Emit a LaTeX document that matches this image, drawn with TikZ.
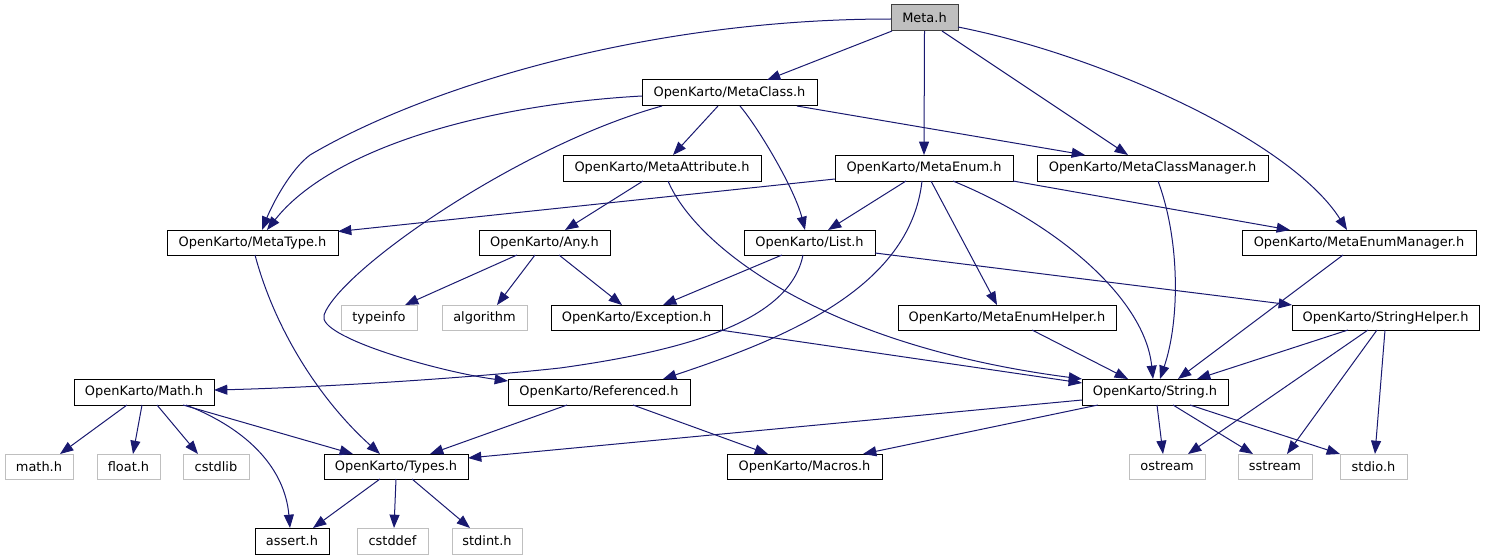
\documentclass[tikz,border=0pt]{standalone}
\usepackage{fontspec}
\setmainfont{DejaVu Sans}
\usetikzlibrary{arrows.meta,calc}
\definecolor{edgec}{HTML}{191970}
\definecolor{grayb}{HTML}{BFBFBF}
\definecolor{darkb}{HTML}{404040}
\newcommand{\nd}[7]{\node[#1, minimum width={(#5-#3)*0.75pt}, minimum height={(#6-#4)*0.75pt}] (#2) at ({(#3+#5)/2},{(#4+#6)/2}) {#7};}
\begin{document}
\begin{tikzpicture}[x=0.75pt,y=-0.75pt, font=\fontsize{9.7}{11}\selectfont,
 base/.style={rectangle, inner sep=0pt, outer sep=0pt, line width=0.75pt, text=black},
 hdr/.style={base, draw=black},
 root/.style={base, draw=darkb, fill=grayb},
 sys/.style={base, draw=grayb},
 conn/.style={draw=edgec, line width=0.75pt, -{Triangle[length=10pt,width=7.5pt]}}]
\useasboundingbox (0,0) rectangle (1485,560);
\nd{root}{meta}{891}{5}{958}{31}{Meta.h}
\nd{hdr}{mclass}{642}{80}{817}{106}{OpenKarto/MetaClass.h}
\nd{hdr}{mattr}{563}{155}{761}{181}{OpenKarto/MetaAttribute.h}
\nd{hdr}{menum}{835}{155}{1013}{181}{OpenKarto/MetaEnum.h}
\nd{hdr}{mcm}{1037}{155}{1268}{181}{OpenKarto/MetaClassManager.h}
\nd{hdr}{mtype}{167}{230}{338}{255}{OpenKarto/MetaType.h}
\nd{hdr}{any}{479}{230}{610}{255}{OpenKarto/Any.h}
\nd{hdr}{list}{744}{230}{875}{255}{OpenKarto/List.h}
\nd{hdr}{mem}{1242}{230}{1476}{255}{OpenKarto/MetaEnumManager.h}
\nd{sys}{typeinfo}{341}{305}{417}{330}{typeinfo}
\nd{sys}{algorithm}{442}{305}{527}{330}{algorithm}
\nd{hdr}{exc}{551}{305}{722}{330}{OpenKarto/Exception.h}
\nd{hdr}{meh}{898}{305}{1116}{330}{OpenKarto/MetaEnumHelper.h}
\nd{hdr}{sh}{1292}{305}{1479}{330}{OpenKarto/StringHelper.h}
\nd{hdr}{math}{74}{379}{214}{405}{OpenKarto/Math.h}
\nd{hdr}{ref}{508}{379}{690}{405}{OpenKarto/Referenced.h}
\nd{hdr}{str}{1082}{379}{1228}{405}{OpenKarto/String.h}
\nd{sys}{mathh}{5}{454}{73}{479}{math.h}
\nd{sys}{floath}{97}{454}{160}{479}{float.h}
\nd{sys}{cstdlib}{183}{454}{249}{479}{cstdlib}
\nd{hdr}{types}{324}{454}{468}{479}{OpenKarto/Types.h}
\nd{hdr}{macros}{727}{454}{882}{479}{OpenKarto/Macros.h}
\nd{sys}{ostream}{1129}{454}{1205}{479}{ostream}
\nd{sys}{sstream}{1238}{454}{1312}{479}{sstream}
\nd{sys}{stdio}{1340}{454}{1407}{479}{stdio.h}
\nd{hdr}{assert}{255}{528}{329}{554}{assert.h}
\nd{sys}{cstddef}{357}{528}{428}{554}{cstddef}
\nd{sys}{stdint}{452}{528}{522}{554}{stdint.h}
% edges
\draw[conn] ($(meta.south)+(-32.5,0)$) -- ($(mclass.north)+(37.5,0)$);
\draw[conn] ($(meta.west)+(0,1)$) .. controls (640,19) and (420,90) .. (310,155) .. controls (290,170) and (272,205) .. ($(mtype.north)+(9.5,0)$);
\draw[conn] (meta.south) -- (menum.north);
\draw[conn] ($(meta.south)+(17.5,0)$) -- ($(mcm.north)+(-24.5,0)$);
\draw[conn] ($(meta.east)+(0,9)$) .. controls (1100,55) and (1290,140) .. ($(mem.north)+(-12,0)$);
\draw[conn] ($(mclass.west)+(0,3)$) .. controls (480,105) and (330,150) .. ($(mtype.north)+(14.5,0)$);
\draw[conn] ($(mclass.south)+(-11.5,0)$) -- ($(mattr.north)+(11,0)$);
\draw[conn] ($(mclass.south)+(10.5,0)$) .. controls (760,130) and (795,190) .. ($(list.north)+(-4.5,0)$);
\draw[conn] ($(mclass.south)+(67.5,0)$) -- ($(mcm.north)+(-67.5,0)$);
\draw[conn] ($(mclass.south)+(-67.5,0)$) .. controls (520,145) and (340,270) .. (324,315) .. controls (316,337) and (440,372) .. ($(ref.west)+(0,-11)$);
\draw[conn] ($(mattr.south)+(-19,0)$) -- ($(any.north)+(20.5,0)$);
\draw[conn] ($(mattr.south)+(6,0)$) .. controls (695,245) and (820,345) .. ($(str.west)+(0,-13)$);
\draw[conn] ($(menum.west)+(0,11)$) -- ($(mtype.east)+(0,-11)$);
\draw[conn] ($(menum.south)+(-18,0)$) -- ($(list.north)+(18.5,0)$);
\draw[conn] ($(menum.south)+(-2,0)$) .. controls (910,290) and (780,340) .. ($(ref.north)+(64,0)$);
\draw[conn] ($(menum.south)+(7,0)$) -- ($(meh.north)+(-10,0)$);
\draw[conn] ($(menum.south)+(29,0)$) .. controls (1060,225) and (1145,300) .. ($(str.north)+(-2,0)$);
\draw[conn] (menum.south east) -- ($(mem.north)+(-69,0)$);
\draw[conn] ($(mcm.south)+(5.5,0)$) .. controls (1180,240) and (1180,320) .. ($(str.north)+(5,0)$);
\draw[conn] ($(mtype.south)+(2.5,0)$) .. controls (275,330) and (320,400) .. ($(types.north)+(-16,0)$);
\draw[conn] ($(any.south)+(-27.5,0)$) -- ($(typeinfo.north)+(26,0)$);
\draw[conn] ($(any.south)+(-9.5,0)$) -- ($(algorithm.north)+(12.5,0)$);
\draw[conn] ($(any.south)+(14.5,0)$) -- ($(exc.north)+(-14.5,0)$);
\draw[conn] ($(list.south)+(-27.5,0)$) -- ($(exc.north)+(26.5,0)$);
\draw[conn] ($(list.south)+(-6.5,0)$) .. controls (790,320) and (690,350) .. (560,368) .. controls (450,380) and (300,388) .. ($(math.east)+(0,-2)$);
\draw[conn] ($(list.east)+(0,10.5)$) -- (sh.north west);
\draw[conn] ($(exc.south)+(83.5,0)$) -- ($(str.west)+(0,-9)$);
\draw[conn] ($(meh.south)+(25,0)$) -- ($(str.north)+(-27,0)$);
\draw[conn] ($(mem.south)+(-16,0)$) -- ($(str.north)+(23,0)$);
\draw[conn] ($(sh.south)+(-37.5,0)$) -- ($(str.north)+(42,0)$);
\draw[conn] ($(sh.south)+(-17.5,0)$) -- ($(ostream.north)+(21,0)$);
\draw[conn] ($(sh.south)+(-8.5,0)$) -- ($(sstream.north)+(12,0)$);
\draw[conn] ($(sh.south)+(-0.5,0)$) -- ($(stdio.north)+(1.5,0)$);
\draw[conn] ($(str.south)+(2,0)$) -- ($(ostream.north)+(-4,0)$);
\draw[conn] ($(str.south)+(18,0)$) -- ($(sstream.north)+(-22,0)$);
\draw[conn] ($(str.south)+(35,0)$) -- (stdio.north west);
\draw[conn] ($(str.west)+(0,8)$) -- ($(types.east)+(0,-8.5)$);
\draw[conn] ($(str.south)+(-57,0)$) -- ($(macros.north)+(58.5,0)$);
\draw[conn] ($(ref.south)+(-32,0)$) -- ($(types.north)+(34,0)$);
\draw[conn] ($(ref.south)+(34,0)$) -- ($(macros.north)+(-36.5,0)$);
\draw[conn] ($(math.south)+(-17,0)$) -- ($(mathh.north)+(21,0)$);
\draw[conn] ($(math.south)+(-2,0)$) -- ($(floath.north)+(4.5,0)$);
\draw[conn] ($(math.south)+(13,0)$) -- ($(cstdlib.north)+(-18,0)$);
\draw[conn] ($(math.south)+(39,0)$) -- ($(types.north)+(-43,0)$);
\draw[conn] ($(math.south)+(42,0)$) .. controls (250,430) and (285,470) .. ($(assert.north)+(-2,0)$);
\draw[conn] ($(types.south)+(-16,0)$) -- ($(assert.north)+(21,0)$);
\draw[conn] (types.south) -- ($(cstddef.north)+(1.5,0)$);
\draw[conn] ($(types.south)+(16,0)$) -- ($(stdint.north)+(-17,0)$);
\end{tikzpicture}
\end{document}
